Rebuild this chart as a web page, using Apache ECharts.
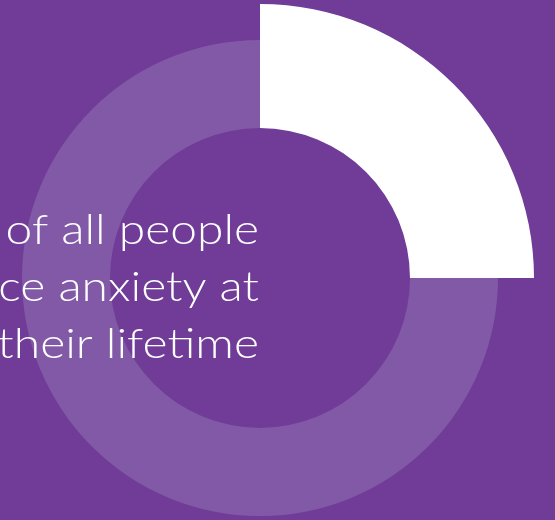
<!DOCTYPE html>
<html><head><meta charset="utf-8">
<script src="https://cdn.jsdelivr.net/npm/echarts@6/dist/echarts.min.js"></script>
<style>html,body{margin:0;padding:0;background:#703c97;}#c{width:555px;height:520px;}</style>
</head><body><div id="c"></div>
<script>
const highlightShare = [25, 75];          // white segment vs rest (percent)
const ringShare = [100];                  // full background ring
const textLines = ['of all people', 'ce anxiety at', 'their lifetime'];

const chart = echarts.init(document.getElementById('c'), null, {renderer: 'canvas'});
chart.setOption({
  backgroundColor: '#703c97',
  animation: false,
  series: [
    {
      type: 'pie', center: [260, 278], radius: [150, 238], silent: true,
      label: {show: false}, labelLine: {show: false},
      data: ringShare.map(v => ({value: v, itemStyle: {color: '#8259a6'}}))
    },
    {
      type: 'pie', center: [260, 278], radius: [150, 274], startAngle: 90, clockwise: true,
      silent: true, label: {show: false}, labelLine: {show: false},
      data: highlightShare.map((v, i) => ({value: v, itemStyle: {color: i === 0 ? '#ffffff' : 'rgba(0,0,0,0)'}}))
    }
  ],
  graphic: textLines.map((t, i) => ({
    type: 'text', z: 100, x: 259, y: 231 + i * 57, scaleX: 1.17,
    style: {text: t, fill: '#ffffff', font: '300 41px Lato', textAlign: 'right', textVerticalAlign: 'middle'}
  }))
});
</script></body></html>
